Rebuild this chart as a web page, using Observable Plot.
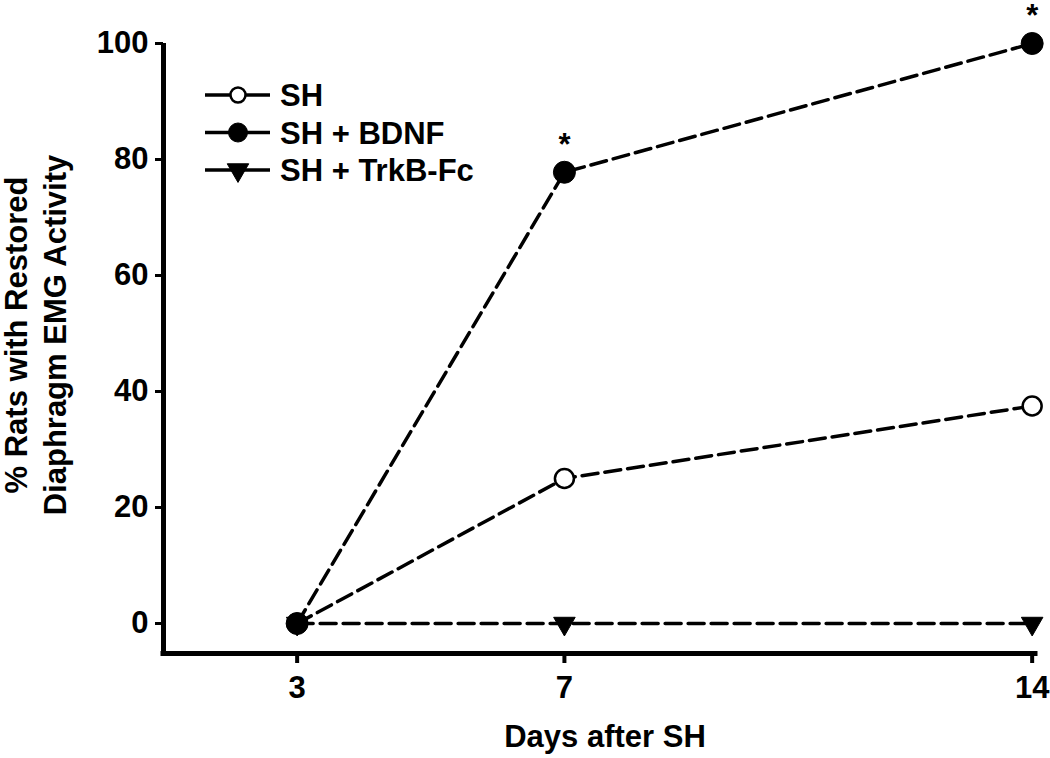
<!DOCTYPE html>
<html>
<head>
<meta charset="utf-8">
<script src="https://cdn.jsdelivr.net/npm/d3@7"></script>
<script src="https://cdn.jsdelivr.net/npm/@observablehq/plot@0.6"></script>
<style>
  html, body { margin: 0; padding: 0; background: #fff; }
  #chart { position: relative; width: 1050px; height: 758px; }
</style>
</head>
<body>
<div id="chart"></div>
<script>
// ---- data ----
const days = [3, 7, 14];
const shValues = [0, 25, 37.5];
const bdnfValues = [0, 77.8, 100];
const trkbValues = [0, 0, 0];
const bdnfSignificant = [false, true, true];
const seriesNames = ["SH", "SH + BDNF", "SH + TrkB-Fc"];
const yTicks = [0, 20, 40, 60, 80, 100];
const xTicks = [3, 7, 14];
const xTitle = "Days after SH";
const yTitleLines = ["% Rats with Restored", "Diaphragm EMG Activity"];

// ---- build rows ----
const xDomain = [1, 14.05];
const yDomain = [-5.17, 100];
const rows = (vals, series) => days.map((d, i) => ({day: d, value: vals[i], series}));
const shRows = rows(shValues, seriesNames[0]);
const bdnfRows = rows(bdnfValues, seriesNames[1]);
const trkbRows = rows(trkbValues, seriesNames[2]);
const sigRows = bdnfRows.filter((r, i) => bdnfSignificant[i]);

const FONT = "'Liberation Sans', Arial, Helvetica, sans-serif";
const dash = "16,7";

const plot = Plot.plot({
  width: 1050,
  height: 758,
  marginLeft: 163,
  marginRight: 15,
  marginTop: 43,
  marginBottom: 105,
  x: {domain: xDomain},
  y: {domain: yDomain},
  style: {fontFamily: FONT, fontSize: "31px", fontWeight: "bold", color: "black", background: "white", overflow: "visible"},
  marks: [
    Plot.axisY({ticks: yTicks, tickSize: 8, tickPadding: 7, strokeWidth: 3, label: null, fontSize: 31}),
    Plot.axisX({ticks: xTicks, tickSize: 10, tickPadding: 12, strokeWidth: 4, label: null, fontSize: 31}),
    Plot.ruleX([xDomain[0]], {y1: yDomain[0], y2: yDomain[1], strokeWidth: 5}),
    Plot.ruleY([yDomain[0]], {x1: xDomain[0], x2: xDomain[1], strokeWidth: 5, strokeLinecap: "square"}),
    Plot.line(trkbRows, {x: "day", y: "value", stroke: "black", strokeWidth: 3.5, strokeDasharray: dash}),
    Plot.line(shRows, {x: "day", y: "value", stroke: "black", strokeWidth: 3.5, strokeDasharray: dash}),
    Plot.line(bdnfRows, {x: "day", y: "value", stroke: "black", strokeWidth: 3.5, strokeDasharray: dash}),
    Plot.dot(shRows, {x: "day", y: "value", r: 9.5, fill: "white", stroke: "black", strokeWidth: 2.5}),
    Plot.dot(trkbRows, {x: "day", y: "value", symbol: "triangle", r: 8, fill: "black", stroke: "black", strokeWidth: 1, rotate: 180}),
    Plot.dot(bdnfRows, {x: "day", y: "value", r: 11, fill: "black", stroke: "black", strokeWidth: 1}),
    Plot.text(sigRows, {x: "day", y: "value", text: () => "*", dy: -27, fontSize: 31, fontWeight: "bold", fill: "black"})
  ]
});

document.getElementById("chart").appendChild(plot);

// ---- titles and legend ----
const svg = d3.select(plot);
svg.append("text")
  .attr("x", 605).attr("y", 747)
  .attr("text-anchor", "middle")
  .attr("font-family", FONT).attr("font-size", 31).attr("font-weight", "bold")
  .text(xTitle);

const yTitleX = [27, 66];
yTitleLines.forEach((t, i) => {
  svg.append("text")
    .attr("transform", `translate(${yTitleX[i]},335) rotate(-90)`)
    .attr("text-anchor", "middle")
    .attr("font-family", FONT).attr("font-size", 31).attr("font-weight", "bold")
    .text(t);
});

const legend = svg.append("g").attr("transform", "translate(205,95)");
const legendStyles = [
  {type: "circle", r: 7.5, fill: "white", sw: 2.5},
  {type: "circle", r: 9.5, fill: "black", sw: 1},
  {type: "tri", fill: "black", sw: 1}
];
seriesNames.forEach((name, i) => {
  const g = legend.append("g").attr("transform", `translate(0,${i * 37.5})`);
  g.append("line").attr("x1", 0).attr("x2", 65).attr("y1", 0).attr("y2", 0)
    .attr("stroke", "black").attr("stroke-width", 3.5);
  const s = legendStyles[i];
  if (s.type === "circle") {
    g.append("circle").attr("cx", 33).attr("cy", 0).attr("r", s.r)
      .attr("fill", s.fill).attr("stroke", "black").attr("stroke-width", s.sw);
  } else {
    g.append("path").attr("d", d3.symbol(d3.symbolTriangle, 200)())
      .attr("transform", "translate(33,0) rotate(180)")
      .attr("fill", "black").attr("stroke", "black").attr("stroke-width", 1);
  }
  g.append("text").attr("x", 75).attr("y", 0).attr("dy", "0.36em")
    .attr("text-anchor", "start")
    .attr("font-family", FONT).attr("font-size", 31).attr("font-weight", "bold")
    .text(name);
});
</script>
</body>
</html>
